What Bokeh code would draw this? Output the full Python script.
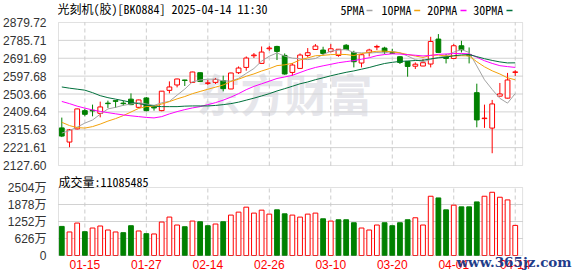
from bokeh.plotting import figure
from bokeh.layouts import column
from bokeh.models import (ColumnDataSource, Range1d, FixedTicker, NumeralTickFormatter,
                          CustomJSTickFormatter, Label, BoxAnnotation)
from bokeh.embed import file_html
from bokeh.resources import INLINE

# ---------------- data ----------------
dates = ["01-10", "01-13", "01-14", "01-15", "01-16", "01-17", "01-20", "01-21", "01-22", "01-23",
         "01-24", "01-27", "02-05", "02-06", "02-07", "02-10", "02-11", "02-12", "02-13", "02-14",
         "02-17", "02-18", "02-19", "02-20", "02-21", "02-24", "02-25", "02-26", "02-27", "02-28",
         "03-03", "03-04", "03-05", "03-06", "03-07", "03-10", "03-11", "03-12", "03-13", "03-14",
         "03-17", "03-18", "03-19", "03-20", "03-21", "03-24", "03-25", "03-26", "03-27", "03-28",
         "03-31", "04-01", "04-02", "04-03", "04-07", "04-08", "04-09", "04-10", "04-11", "04-14"]

open_ = [2325.4, 2250.9, 2320.2, 2416.2, 2417.8, 2402.0, 2455.6, 2468.7, 2455.6, 2476.6,
         2433.5, 2482.9, 2434.6, 2416.2, 2522.8, 2551.1, 2577.4, 2564.8, 2615.7, 2559.5,
         2564.8, 2573.7, 2530.1, 2615.7, 2643.5, 2704.9, 2664.5, 2741.6, 2753.7, 2706.5,
         2617.2, 2638.2, 2706.5, 2738.0, 2734.8, 2727.5, 2706.5, 2760.0, 2722.2, 2666.6,
         2722.2, 2750.6, 2745.3, 2720.7, 2699.7, 2675.0, 2649.8, 2650.8, 2661.3, 2792.6,
         2699.7, 2690.7, 2757.4, 2710.2, 2510.7, 2374.2, 2324.4, 2492.3, 2481.8, 2617.2]
close = [2282.4, 2314.9, 2425.1, 2396.8, 2414.6, 2435.6, 2453.0, 2465.0, 2453.0, 2447.7,
         2472.4, 2416.2, 2430.4, 2518.6, 2540.6, 2582.6, 2574.7, 2619.3, 2570.0, 2562.1,
         2580.5, 2531.7, 2614.1, 2640.3, 2692.8, 2708.6, 2724.3, 2745.3, 2727.5, 2608.8,
         2656.1, 2708.6, 2720.7, 2755.8, 2717.0, 2741.6, 2739.0, 2737.4, 2673.4, 2710.2,
         2734.8, 2753.7, 2725.9, 2717.5, 2669.7, 2648.7, 2660.3, 2668.2, 2780.0, 2722.2,
         2690.7, 2757.4, 2736.4, 2704.9, 2367.4, 2376.8, 2451.4, 2503.9, 2577.4, 2619.9]
high = [2379.5, 2319.1, 2426.7, 2425.1, 2447.7, 2463.5, 2468.7, 2469.7, 2468.7, 2507.0,
        2473.9, 2488.1, 2445.1, 2519.6, 2570.0, 2584.2, 2578.0, 2620.9, 2617.2, 2577.4,
        2587.9, 2599.9, 2615.7, 2648.7, 2701.2, 2719.1, 2753.7, 2755.8, 2757.4, 2717.0,
        2666.6, 2717.0, 2745.3, 2766.3, 2752.1, 2766.3, 2740.1, 2766.3, 2731.1, 2712.8,
        2741.6, 2762.6, 2752.1, 2741.6, 2701.2, 2676.0, 2669.7, 2687.6, 2804.6, 2818.8,
        2713.8, 2766.3, 2783.6, 2748.5, 2557.9, 2447.7, 2472.4, 2561.6, 2614.6, 2628.8]
low = [2277.1, 2223.6, 2317.5, 2386.3, 2386.3, 2381.0, 2430.4, 2430.4, 2442.5, 2445.1,
       2432.0, 2412.5, 2416.2, 2412.5, 2507.0, 2538.5, 2545.9, 2563.2, 2568.4, 2551.1,
       2556.4, 2517.5, 2529.1, 2608.8, 2626.2, 2692.8, 2661.3, 2731.1, 2682.3, 2605.2,
       2599.9, 2636.7, 2696.0, 2736.4, 2706.5, 2722.2, 2699.7, 2733.8, 2643.5, 2643.5,
       2701.2, 2734.8, 2713.8, 2713.8, 2661.3, 2594.7, 2635.1, 2649.8, 2643.5, 2720.7,
       2664.5, 2689.2, 2722.2, 2664.5, 2328.6, 2325.4, 2192.1, 2490.7, 2480.2, 2598.3]

ma5 = [2298.1, 2311.2, 2329.6, 2350.6, 2366.9, 2397.3, 2425.1, 2433.5, 2444.0, 2450.9,
       2458.2, 2450.9, 2444.0, 2457.2, 2465.0, 2497.6, 2529.6, 2567.4, 2577.4, 2581.6,
       2581.6, 2572.6, 2571.6, 2585.8, 2612.0, 2637.7, 2676.6, 2702.3, 2719.6, 2702.8,
       2692.3, 2689.2, 2684.4, 2690.2, 2711.7, 2728.5, 2734.8, 2738.0, 2721.7, 2720.1,
       2719.1, 2721.7, 2719.6, 2728.5, 2720.1, 2703.3, 2684.4, 2672.9, 2685.5, 2696.0,
       2704.4, 2723.8, 2737.4, 2722.2, 2651.4, 2578.4, 2527.5, 2480.8, 2455.6, 2506.0]
ma10 = [2354.8, 2337.5, 2327.0, 2324.4, 2332.2, 2345.3, 2361.1, 2374.2, 2390.0, 2408.9,
        2427.8, 2437.7, 2438.3, 2450.9, 2463.5, 2478.1, 2490.2, 2505.4, 2517.0, 2528.5,
        2539.6, 2551.1, 2569.5, 2581.6, 2596.8, 2609.4, 2624.6, 2637.2, 2652.9, 2657.1,
        2665.0, 2682.9, 2693.4, 2704.9, 2707.0, 2710.7, 2712.3, 2711.2, 2706.0, 2715.9,
        2723.8, 2728.5, 2729.1, 2724.9, 2720.1, 2711.2, 2703.3, 2696.0, 2707.0, 2708.1,
        2703.9, 2703.9, 2704.9, 2703.9, 2673.4, 2646.6, 2625.6, 2608.8, 2588.9, 2578.4]
ma20 = [2464.5, 2453.0, 2439.8, 2429.3, 2419.9, 2412.0, 2405.7, 2399.4, 2393.6, 2388.9,
        2384.7, 2380.5, 2377.9, 2384.7, 2398.9, 2411.0, 2421.5, 2430.4, 2437.2, 2447.7,
        2458.2, 2471.3, 2487.1, 2505.4, 2526.4, 2543.8, 2557.4, 2571.1, 2585.2, 2593.1,
        2602.0, 2616.7, 2631.4, 2643.2, 2651.9, 2659.8, 2668.2, 2673.9, 2679.2, 2686.6,
        2694.4, 2705.4, 2711.2, 2714.9, 2713.9, 2710.7, 2707.5, 2703.9, 2706.5, 2712.3,
        2713.9, 2716.5, 2717.0, 2714.4, 2697.0, 2678.7, 2664.5, 2652.7, 2647.7, 2643.5]
ma30 = [2540.7, 2534.3, 2529.1, 2523.8, 2510.7, 2494.9, 2484.4, 2476.6, 2468.7, 2459.8,
        2453.0, 2446.1, 2439.8, 2437.2, 2437.2, 2437.2, 2439.8, 2440.9, 2440.9, 2440.9,
        2443.5, 2447.7, 2453.0, 2460.8, 2471.3, 2481.8, 2493.4, 2505.4, 2519.6, 2531.7,
        2544.3, 2557.4, 2566.9, 2578.9, 2588.9, 2599.4, 2608.8, 2617.8, 2625.1, 2634.1,
        2643.0, 2654.0, 2664.0, 2670.3, 2675.0, 2677.1, 2679.7, 2681.3, 2688.7, 2693.9,
        2697.6, 2704.9, 2709.1, 2711.2, 2700.2, 2689.2, 2680.2, 2672.4, 2667.1, 2667.6]

# volume in 万 (10k shares)
volume = [1071, 866, 1195, 877, 1012, 1086, 939, 866, 841, 1097,
          903, 804, 793, 1232, 1415, 1122, 1060, 1268, 1243, 1097,
          1159, 1243, 1488, 1597, 1780, 1561, 1670, 1524, 1682, 1535,
          1488, 1414, 1524, 1561, 1352, 1268, 1316, 1316, 1206, 1012,
          939, 1122, 1206, 1097, 1206, 1316, 1389, 1122, 2182, 2120,
          1681, 1853, 1791, 1791, 1974, 2182, 2328, 2145, 2047, 1108.5]

price_ticks = [2127.60, 2221.61, 2315.63, 2409.64, 2503.66, 2597.68, 2691.69, 2785.71, 2879.72]
vol_ticks = [0, 626, 1252, 1878, 2504]
date_labels = ["01-15", "01-27", "02-14", "02-26", "03-10", "03-20", "04-01", "04-14"]
title_text = "光刻机(胶)[BK0884] 2025-04-14 11:30"
vol_text = "成交量:11085485"
ma_names = ["5PMA", "10PMA", "20PMA", "30PMA"]
site_text = "www.365jz.com"

# ---------------- styling / layout constants ----------------
RED = "#ff0000"
GREEN = "#008000"
MA_COLORS = ["#a3a3a3", "#f3a20a", "#ff00ff", "#00703c"]
BORDER = "#9a9a9a"
GRID = "#d2d2d2"
VGRID = "#cccccc"
MONO = "'Noto Sans Mono CJK SC', 'Noto Sans CJK SC', monospace"
AXF = "'Liberation Sans', 'Noto Sans CJK SC', sans-serif"

X_LO, X_HI = -0.43, 59.96          # slot range of the chart box
PX_PER_SLOT = 7.70
XPAD = 1.0 / PX_PER_SLOT
RIGHT_PX = 55                       # page pixels right of the chart box

n = len(dates)
idx = list(range(n))
up = [c >= o for o, c in zip(open_, close)]
vol_up = [False] + [close[i] >= close[i - 1] for i in range(1, n)]
date_ticks = [dates.index(d) for d in date_labels]
k = len(date_ticks)

src = ColumnDataSource(dict(
    x=idx, high=high, low=low,
    top=[max(o, c) for o, c in zip(open_, close)],
    bottom=[min(o, c) for o, c in zip(open_, close)],
    line=[RED if u else GREEN for u in up],
    fill=["#ffffff" if u else GREEN for u in up],
))
vsrc = ColumnDataSource(dict(
    x=idx, vol=volume,
    line=[RED if u else GREEN for u in vol_up],
    fill=["#ffffff" if u else GREEN for u in vol_up],
))

xr = Range1d(X_LO - XPAD, X_HI + XPAD + RIGHT_PX / PX_PER_SLOT)

def style_axis(ax):
    ax.axis_line_color = None
    ax.major_tick_line_color = None
    ax.minor_tick_line_color = None
    ax.major_label_standoff = 5
    ax.major_label_text_font = AXF
    ax.major_label_text_font_size = "12px"
    ax.major_label_text_color = "#333333"

def box_grid(p, yticks, ylo, yhi):
    inner = yticks[1:-1]
    p.segment(x0=[X_LO] * len(inner), y0=inner, x1=[X_HI] * len(inner), y1=inner,
              line_color=GRID, line_width=1)
    p.segment(x0=date_ticks, y0=[ylo] * k, x1=date_ticks, y1=[yhi] * k,
              line_color=VGRID, line_dash="4 3", line_width=1)

# ---------------- price panel ----------------
# frame spans page y 0..166; box top (2879.72) at y=22, box bottom (2127.60) at y=165
p_lo, p_hi = price_ticks[0], price_ticks[-1]
ppx = (p_hi - p_lo) / 143.0
p1 = figure(width=578, height=172, x_range=xr,
            y_range=Range1d(p_lo - 1 * ppx, p_hi + 22 * ppx),
            output_backend="svg", toolbar_location=None,
            min_border_left=56, min_border_right=0, min_border_top=0, min_border_bottom=6)
p1.xaxis.visible = False
p1.xgrid.visible = False
p1.ygrid.visible = False
p1.yaxis.ticker = FixedTicker(ticks=price_ticks)
p1.yaxis.formatter = NumeralTickFormatter(format="0.00")
style_axis(p1.yaxis)
p1.outline_line_color = None

# watermark
p1.add_layout(Label(x=139, y=74, x_units="screen", y_units="screen", text="东方财富",
                    text_font="'Noto Sans CJK SC'", text_font_style="bold", text_font_size="44px",
                    text_color="#e6e6eb", text_baseline="middle", level="image"))

box_grid(p1, price_ticks, p_lo, p_hi)

p1.segment(x0="x", y0="high", x1="x", y1="low", color="line", line_width=1, source=src)
p1.vbar(x="x", top="top", bottom="bottom", width=0.62, fill_color="fill",
        line_color="line", line_width=1, source=src)

for ma, col in zip([ma5, ma10, ma20, ma30], MA_COLORS):
    p1.line(idx, ma, line_color=col, line_width=1)

p1.add_layout(BoxAnnotation(left=X_LO, right=X_HI, bottom=p_lo, top=p_hi,
                            fill_alpha=0, line_color=BORDER, line_width=1))

p1.add_layout(Label(x=0, y=157.7, x_units="screen", y_units="screen", text=title_text,
                    text_font=MONO, text_font_size="12px", text_color="#000000",
                    text_baseline="middle"))
leg_x = [283, 324, 369.7, 415.7]
sw_x = [309, 356.7, 403, 449]
for name, col, lx, sx in zip(ma_names, MA_COLORS, leg_x, sw_x):
    p1.add_layout(Label(x=lx, y=157.3, x_units="screen", y_units="screen", text=name,
                        text_font=MONO, text_font_size="12px", text_color="#000000",
                        text_baseline="middle"))
    p1.add_layout(BoxAnnotation(left=sx, right=sx + 6, bottom=155.3, top=156.8,
                                left_units="screen", right_units="screen",
                                top_units="screen", bottom_units="screen",
                                fill_color=col, fill_alpha=1, line_color=None))

# ---------------- volume panel ----------------
# frame spans page y 172..276; 2504 at page y 187, 0 at page y 255
v_lo, v_hi = vol_ticks[0], vol_ticks[-1]
vpx = (v_hi - v_lo) / 68.0
p2 = figure(width=578, height=104, x_range=xr,
            y_range=Range1d(v_lo - 21 * vpx, v_hi + 15 * vpx),
            output_backend="svg", toolbar_location=None,
            min_border_left=56, min_border_right=0, min_border_top=0, min_border_bottom=0)
p2.xaxis.fixed_location = 0
p2.xaxis.ticker = FixedTicker(ticks=date_ticks)
p2.xaxis.formatter = CustomJSTickFormatter(args=dict(d=dates), code="return d[tick];")
p2.xgrid.visible = False
p2.ygrid.visible = False
p2.yaxis.ticker = FixedTicker(ticks=vol_ticks)
p2.yaxis.formatter = CustomJSTickFormatter(code="return tick == 0 ? '0' : tick + '万';")
style_axis(p2.xaxis)
style_axis(p2.yaxis)
p2.xaxis.major_label_standoff = -2
p2.xaxis.major_label_text_color = RED
p2.outline_line_color = None

box_grid(p2, vol_ticks, v_lo, v_hi)
p2.vbar(x="x", top="vol", bottom=0, width=0.62, fill_color="fill", line_color="line",
        line_width=1, source=vsrc)
p2.add_layout(BoxAnnotation(left=X_LO, right=X_HI, bottom=v_lo, top=v_hi,
                            fill_alpha=0, line_color=BORDER, line_width=1))

p2.add_layout(Label(x=1, y=103.5, x_units="screen", y_units="screen", text=vol_text,
                    text_font=MONO, text_font_size="12px", text_color="#000000",
                    text_baseline="top"))
p2.add_layout(Label(x=399, y=15, x_units="screen", y_units="screen", text=site_text,
                    text_font="'DejaVu Serif'", text_font_style="bold", text_font_size="13.5px",
                    text_color="#1f3d8a", text_baseline="middle"))

layout = column(p1, p2, spacing=0)
open("out.html", "w").write(file_html(layout, INLINE))
